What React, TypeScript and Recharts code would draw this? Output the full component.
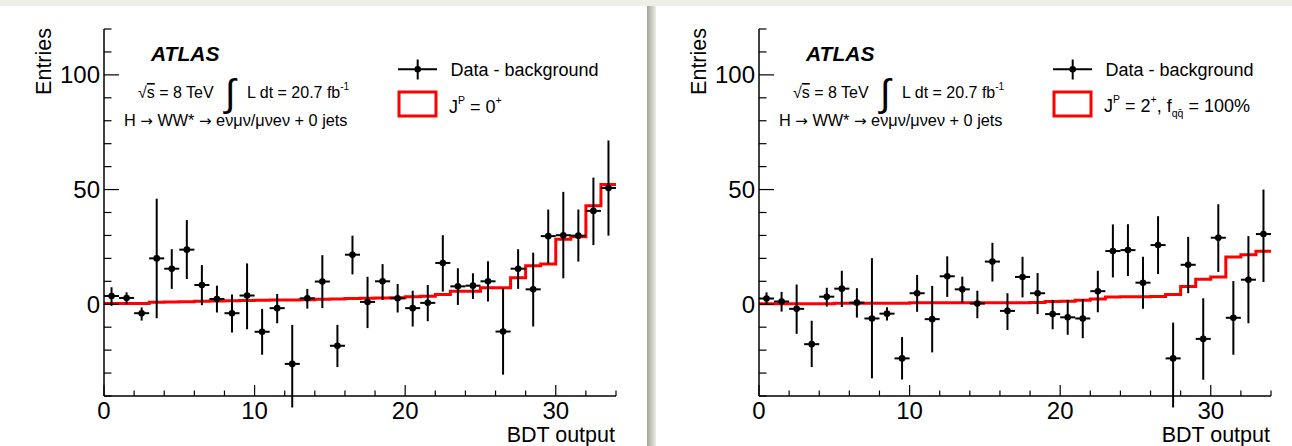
import React from 'react';
import { ComposedChart, Line, Scatter, XAxis, YAxis, ErrorBar } from 'recharts';

const binCenters = [0.5, 1.5, 2.5, 3.5, 4.5, 5.5, 6.5, 7.5, 8.5, 9.5, 10.5, 11.5, 12.5, 13.5, 14.5, 15.5, 16.5, 17.5, 18.5, 19.5, 20.5, 21.5, 22.5, 23.5, 24.5, 25.5, 26.5, 27.5, 28.5, 29.5, 30.5, 31.5, 32.5, 33.5];
const binEdges = [0, 1, 2, 3, 4, 5, 6, 7, 8, 9, 10, 11, 12, 13, 14, 15, 16, 17, 18, 19, 20, 21, 22, 23, 24, 25, 26, 27, 28, 29, 30, 31, 32, 33, 34];
const binHalfWidth = 0.5;
const xTicks = [0, 2, 4, 6, 8, 10, 12, 14, 16, 18, 20, 22, 24, 26, 28, 30, 32, 34];
const yTicks = [-40, -30, -20, -10, 0, 10, 20, 30, 40, 50, 60, 70, 80, 90, 100, 110, 120];
const xMajorLabels = [0, 10, 20, 30];
const yMajorLabels = [0, 50, 100];

// Left panel: J^P = 0+
const leftData = [3.6, 2.75, -3.9, 20, 15.5, 23.8, 8.4, 2.3, -3.9, 3.8, -12, -1.7, -26, 2.6, 9.9, -18.1, 21.6, 1.0, 10, 2.6, -1.7, 0.6, 18, 7.8, 8.1, 10, -11.9, 15.5, 6.5, 29.7, 30.1, 29.9, 40.7, 50.7];
const leftHigh = [7.4, 5.2, -1.4, 46, 24, 36.7, 17.1, 8.1, 4.3, 17.8, -2, 4.5, -9, 6.7, 21.4, -9, 29.9, 12, 17.5, 8.8, 5.9, 8.4, 30.1, 15.7, 13.5, 18.8, 7, 24, 22.5, 41.3, 49, 41.3, 55.2, 71.4];
const leftLow = [-0.7, 0, -7.1, -6.1, 6.7, 11, -0.4, -3.6, -12.3, -10.9, -22, -8.3, -45, -1.9, -1.7, -27.4, 13, -10.4, 1.9, -3.6, -9.7, -7.4, 5.5, -0.3, 2.3, 1.2, -30.7, 6.7, -9.7, 17.8, 11.3, 18.6, 25.8, 29.9];
const leftSignal = [0.3, 0.3, 0.3, 0.9, 1.0, 1.1, 1.3, 1.4, 1.5, 1.6, 1.7, 1.8, 1.9, 2.0, 2.2, 2.3, 2.5, 2.6, 2.7, 2.8, 3.3, 3.5, 4.3, 5.7, 5.7, 7.2, 7.2, 11.6, 16.8, 17.5, 28.3, 29.4, 42.9, 52.2];

// Right panel: J^P = 2+, f_qq = 100%
const rightData = [2.5, 1.2, -2.0, -17.4, 3.3, 6.8, 0.7, -6.2, -4.1, -23.6, 4.8, -6.5, 12.2, 6.5, 0.3, 18.6, -2.9, 11.9, 4.8, -4.3, -5.7, -6.2, 5.7, 23.2, 23.6, 9.4, 25.8, -23.6, 17.2, -15.1, 29.0, -5.9, 10.7, 30.6];
const rightHigh = [5.2, 5.4, 8.6, -7.2, 7.2, 14.6, 7.0, 20.1, -1.3, -14.3, 12.8, 8.0, 20.9, 12.0, 5.9, 26.8, 4.8, 20.7, 13.6, 1.9, 1.9, 2.2, 14.6, 34.8, 34.9, 20.7, 38.4, -8, 29.4, 2.6, 43.6, 10.1, 29.7, 50];
const rightLow = [0.1, -3.2, -12.9, -27.4, -1.0, -1.2, -5.8, -32.3, -7.1, -32.8, -3.3, -21, 3.2, 0.7, -6.1, 9.9, -11.2, 3.0, -4.3, -10.9, -13.3, -14.8, -3.5, 11.7, 12.3, -2.0, 13.2, -45, 4.8, -32.9, 14.1, -22, -8.3, 9.7];
const rightSignal = [0.2, 0.2, 0.2, 0.2, 0.2, 0.4, 0.4, 0.4, 0.4, 0.4, 0.6, 0.6, 0.6, 0.6, 0.6, 0.6, 0.6, 0.7, 0.8, 1.2, 1.3, 1.7, 2.3, 3.2, 3.3, 3.3, 3.4, 4.2, 7.7, 10.9, 11.9, 20.6, 21.6, 23.1];

const FONT = '"Liberation Sans", Arial, Helvetica, sans-serif';
const ARROW_FONT = '"DejaVu Sans", sans-serif';
const AXIS_LINE = { stroke: '#000', strokeWidth: 1.5 };
const TICK_W = 1.2;

const BottomTick = (p: any) => {
  const v = p.payload.value;
  const major = xMajorLabels.includes(v);
  return (
    <g>
      <line x1={p.x} x2={p.x} y1={p.y} y2={p.y - (major ? 11 : 5.5)} stroke="#000" strokeWidth={TICK_W} />
      {major && (
        <text x={p.x} y={p.y + 23} textAnchor="middle" fontSize={24} fontFamily={FONT} fill="#000">{v}</text>
      )}
    </g>
  );
};
const TopTick = (p: any) => {
  const v = p.payload.value;
  const major = xMajorLabels.includes(v);
  return <line x1={p.x} x2={p.x} y1={p.y} y2={p.y + (major ? 11 : 5.5)} stroke="#000" strokeWidth={TICK_W} />;
};
const LeftTick = (p: any) => {
  const v = p.payload.value;
  const major = yMajorLabels.includes(v);
  return (
    <g>
      <line x1={p.x} x2={p.x + (major ? 15 : 7.5)} y1={p.y} y2={p.y} stroke="#000" strokeWidth={TICK_W} />
      {major && (
        <text x={p.x - 4} y={p.y + 8.5} textAnchor="end" fontSize={24} fontFamily={FONT} fill="#000">{v}</text>
      )}
    </g>
  );
};
const RightTick = (p: any) => {
  const v = p.payload.value;
  const major = yMajorLabels.includes(v);
  return <line x1={p.x} x2={p.x - (major ? 15 : 7.5)} y1={p.y} y2={p.y} stroke="#000" strokeWidth={TICK_W} />;
};

const Dot = (p: any) => <circle cx={p.cx} cy={p.cy} r={3.3} fill="#000" />;

function Panel({ left, width, vals, lo, hi, sig }: { left: number; width: number; vals: number[]; lo: number[]; hi: number[]; sig: number[] }) {
  const pts = binCenters.map((x, i) => ({ x, y: vals[i], ey: [vals[i] - lo[i], hi[i] - vals[i]], ex: binHalfWidth }));
  const step = binEdges.map((x, i) => ({ x, y: sig[Math.min(i, sig.length - 1)] }));
  return (
    <div style={{ position: 'absolute', left, top: 0 }}>
      <ComposedChart width={width} height={446} margin={{ top: 29, right: width - 616, bottom: 10, left: 44 }}>
        <XAxis xAxisId="b" dataKey="x" type="number" domain={[0, 34]} allowDataOverflow ticks={xTicks} interval={0}
          tickSize={0} tickMargin={0} tickLine={false} axisLine={AXIS_LINE} height={40} tick={BottomTick} />
        <XAxis xAxisId="t" orientation="top" dataKey="x" type="number" domain={[0, 34]} allowDataOverflow ticks={xTicks} interval={0}
          tickSize={0} tickMargin={0} tickLine={false} axisLine={AXIS_LINE} height={0} tick={TopTick} />
        <YAxis yAxisId="l" dataKey="y" type="number" domain={[-40, 120]} allowDataOverflow ticks={yTicks} interval={0}
          tickSize={0} tickMargin={0} tickLine={false} axisLine={AXIS_LINE} width={60} tick={LeftTick} />
        <YAxis yAxisId="r" orientation="right" dataKey="y" type="number" domain={[-40, 120]} allowDataOverflow ticks={yTicks} interval={0}
          tickSize={0} tickMargin={0} tickLine={false} axisLine={AXIS_LINE} width={0} tick={RightTick} />
        <Line xAxisId="b" yAxisId="l" data={step} dataKey="y" type="stepAfter" stroke="#ff0000" strokeWidth={3}
          dot={false} activeDot={false} isAnimationActive={false} />
        <Scatter xAxisId="b" yAxisId="l" data={pts} dataKey="y" shape={Dot} isAnimationActive={false}>
          <ErrorBar dataKey="ey" direction="y" width={0} stroke="#000" strokeWidth={2} isAnimationActive={false} />
          <ErrorBar dataKey="ex" direction="x" width={0} stroke="#000" strokeWidth={2} isAnimationActive={false} />
        </Scatter>
      </ComposedChart>
    </div>
  );
}

function Texts({ dx, right }: { dx: number; right: boolean }) {
  const t = { fontFamily: FONT, fill: '#000' } as const;
  return (
    <g transform={`translate(${dx},0)`}>
      <text transform="translate(51,28) rotate(-90)" textAnchor="end" fontSize={21.5} {...t}>Entries</text>
      <text x={615} y={442} textAnchor="end" fontSize={21.5} {...t}>BDT output</text>
      <text x={151} y={61} fontSize={21} fontWeight="bold" fontStyle="italic" {...t}>ATLAS</text>
      <text x={138} y={98} fontSize={16} {...t}>√<tspan style={{ textDecoration: 'overline' }}>s</tspan> = 8 TeV</text>
      <text x={225} y={106} fontSize={38} {...t}>∫</text>
      <text x={247} y={98} fontSize={16} {...t}>L dt = 20.7 fb<tspan dy={-8} fontSize={10}>-1</tspan></text>
      <text x={124} y={126} fontSize={16.3} {...t}>
        H <tspan fontFamily={ARROW_FONT} fontSize={15}>→</tspan> WW* <tspan fontFamily={ARROW_FONT} fontSize={15}>→</tspan> eνμν/μνeν + 0 jets
      </text>
      {/* legend */}
      <line x1={398} x2={437} y1={69.3} y2={69.3} stroke="#000" strokeWidth={2} />
      <line x1={417.7} x2={417.7} y1={59.5} y2={79.5} stroke="#000" strokeWidth={2} />
      <circle cx={417.7} cy={69.3} r={3.3} fill="#000" />
      <text x={450.5} y={75.5} fontSize={18} {...t}>Data - background</text>
      <rect x={399} y={92} width={37} height={24} fill="none" stroke="#ff0000" strokeWidth={3} />
      {right ? (
        <text x={449} y={112} fontSize={18} {...t}>
          J<tspan dy={-9} fontSize={10.5}>P</tspan><tspan dy={9}> = 2</tspan><tspan dy={-9} fontSize={10.5}>+</tspan><tspan dy={9}>, f</tspan><tspan dy={5} fontSize={10.5}>qq̄</tspan><tspan dy={-5}> = 100%</tspan>
        </text>
      ) : (
        <text x={449} y={113} fontSize={18} {...t}>
          J<tspan dy={-9} fontSize={10.5}>P</tspan><tspan dy={9}> = 0</tspan><tspan dy={-9} fontSize={10.5}>+</tspan>
        </text>
      )}
    </g>
  );
}

export default function App() {
  return (
    <div style={{ position: 'absolute', left: 0, top: 0, width: 1292, height: 446, overflow: 'hidden', background: '#fff', fontFamily: FONT }}>
      <div style={{ position: 'absolute', left: 0, top: 0, width: 1292, height: 6, background: '#eef0e7' }} />
      <div style={{ position: 'absolute', left: 647, top: 6, width: 9, height: 440, background: 'linear-gradient(to right, #a3a59a, #c4c6bc 45%, #eceee6)' }} />
      <Panel left={0} width={647} vals={leftData} lo={leftLow} hi={leftHigh} sig={leftSignal} />
      <Panel left={655} width={637} vals={rightData} lo={rightLow} hi={rightHigh} sig={rightSignal} />
      <svg width={1292} height={446} style={{ position: 'absolute', left: 0, top: 0, pointerEvents: 'none' }}>
        <Texts dx={0} right={false} />
        <Texts dx={655} right={true} />
      </svg>
    </div>
  );
}
